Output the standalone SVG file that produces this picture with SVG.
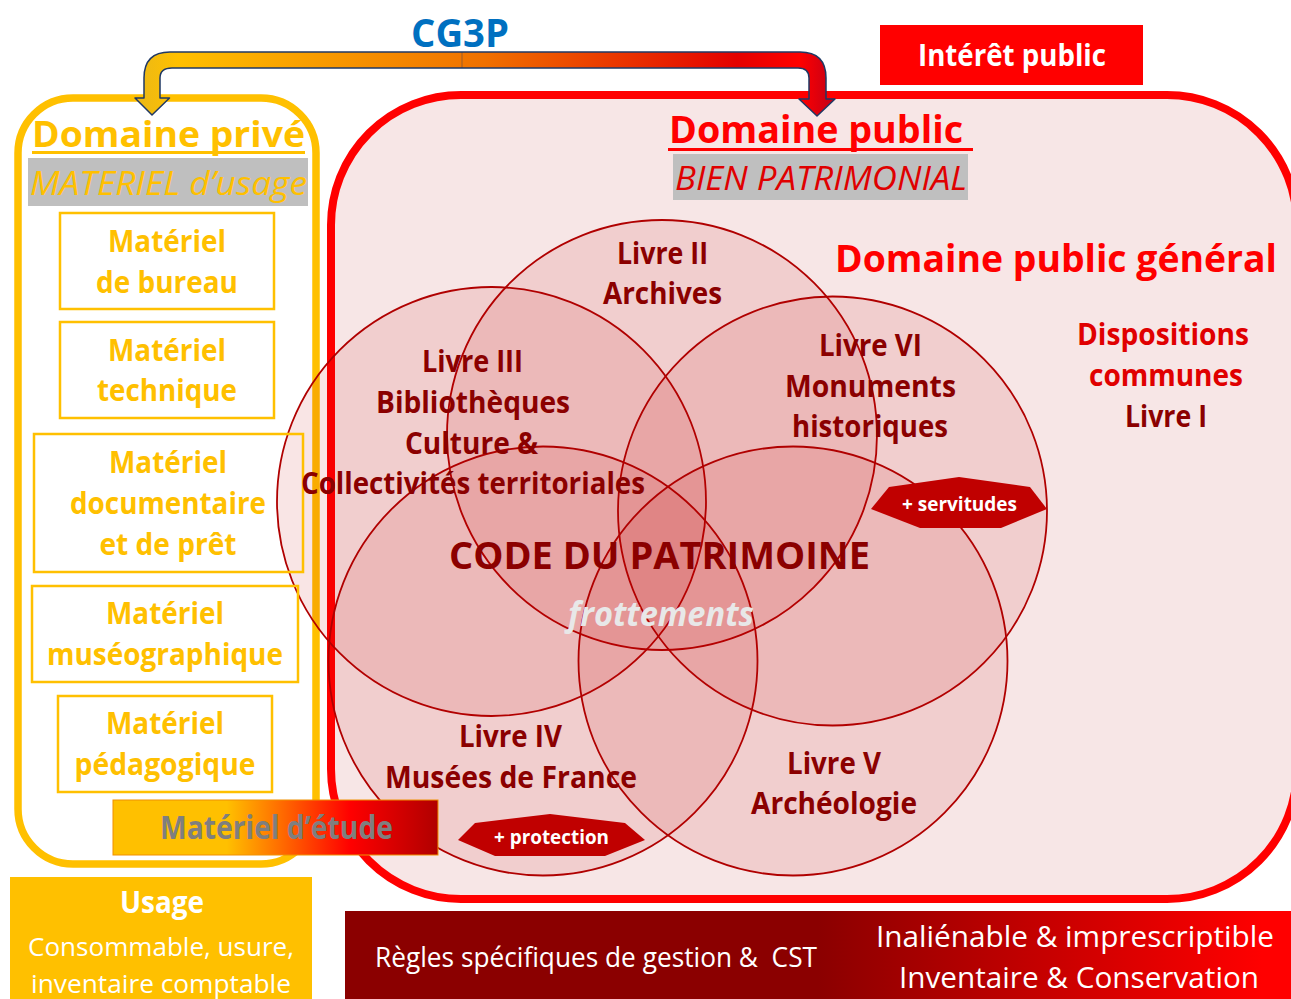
<svg xmlns="http://www.w3.org/2000/svg" width="1291" height="999" viewBox="0 0 1291 999">
<style>
text{font-family:"Open Sans","Noto Sans","Liberation Sans",sans-serif;text-anchor:middle}
.b{font-weight:700}
.dr{fill:#8b0000;font-size:30px;font-weight:700}
.yl{fill:#ffc000;font-size:30px;font-weight:700}
.box{fill:#fff;stroke:#ffc000;stroke-width:2.5}
.venn{fill:#c00000;fill-opacity:.1;stroke:#b00000;stroke-width:1.8}
.hex{fill:#c00000}
.w{fill:#fff}
</style>
<defs>
<linearGradient id="arrow" gradientUnits="userSpaceOnUse" x1="135" y1="0" x2="835" y2="0"><stop offset="0" stop-color="#eab818"/><stop offset=".06" stop-color="#ffc000"/><stop offset=".5" stop-color="#f07000"/><stop offset=".86" stop-color="#e40000"/><stop offset=".95" stop-color="#ff0000"/><stop offset="1" stop-color="#c00018"/></linearGradient>
<linearGradient id="etude" x1="0" y1="0" x2="1" y2="0"><stop offset=".35" stop-color="#ffc000"/><stop offset=".73" stop-color="#ff0000"/><stop offset="1" stop-color="#b00000"/></linearGradient>
<linearGradient id="rules" x1="0" y1="0" x2="1" y2="0"><stop offset=".5" stop-color="#8b0000"/><stop offset=".97" stop-color="#ff0000"/></linearGradient>
</defs>
<g id="domaine-public-cadre"><rect x="331" y="95" width="966" height="804" rx="130" fill="#f7e6e6" stroke="#ff0000" stroke-width="8"/></g>
<g id="domaine-prive-cadre"><rect x="18" y="98" width="298" height="766" rx="55" fill="#fff" stroke="#ffc000" stroke-width="7.500"/></g>
<g id="livre-ii"><circle class="venn" cx="662" cy="435" r="215"/></g>
<g id="livre-iii"><circle class="venn" cx="491.500" cy="501.500" r="214.500"/></g>
<g id="livre-vi"><circle class="venn" cx="832.500" cy="511" r="214.500"/></g>
<g id="livre-iv"><circle class="venn" cx="543" cy="661" r="214.500"/></g>
<g id="livre-v"><circle class="venn" cx="793" cy="661" r="214.500"/></g>
<g id="connectors"><path d="M144 98V78Q144 52 170 52H800Q826 52 826 78V99H835L817 116L799 99H809V78Q809 68 798 68H172Q160 68 160 78V98H169.500L152 115L135 98Z" fill="url(#arrow)" stroke="#1f3864" stroke-width="1.500" stroke-linejoin="round"/><path d="M462 52V68" stroke="#1f3864" stroke-width="1" opacity=".4"/></g>
<g id="cg3p"><text x="460" y="47" class="b" font-size="40" fill="#0070c0" textLength="98" lengthAdjust="spacingAndGlyphs">CG3P</text></g>
<g id="interet-public"><rect x="880" y="25" width="263" height="60" fill="#ff0000"/><text x="1012" y="66" class="b w" font-size="30" textLength="188" lengthAdjust="spacingAndGlyphs">Intérêt public</text></g>
<g id="titre-prive"><text x="168.500" y="147" font-size="36" font-weight="700" fill="#ffc000" textLength="273" lengthAdjust="spacingAndGlyphs">Domaine privé</text><rect x="32" y="151" width="273" height="3" fill="#ffc000"/><rect x="28" y="158" width="280" height="48" fill="#bfbfbf"/><text x="168.500" y="195" font-size="32" font-style="italic" fill="#ffc000" textLength="277" lengthAdjust="spacingAndGlyphs">MATERIEL d’usage</text></g>
<g id="titre-public"><text x="816" y="143" font-size="38" font-weight="700" fill="#ff0000" textLength="294" lengthAdjust="spacingAndGlyphs">Domaine public</text><rect x="668" y="148" width="305" height="3" fill="#ff0000"/><rect x="673" y="154" width="295" height="46" fill="#bfbfbf"/><text x="821" y="190" font-size="32" font-style="italic" fill="#e00000" textLength="292" lengthAdjust="spacingAndGlyphs">BIEN PATRIMONIAL</text></g>
<g id="materiel-bureau"><rect class="box" x="60" y="213" width="214" height="96"/><text class="yl" x="167" y="252" textLength="118" lengthAdjust="spacingAndGlyphs">Matériel</text><text class="yl" x="167" y="293" textLength="142" lengthAdjust="spacingAndGlyphs">de bureau</text></g>
<g id="materiel-technique"><rect class="box" x="60" y="322" width="214" height="96"/><text class="yl" x="167" y="361" textLength="118" lengthAdjust="spacingAndGlyphs">Matériel</text><text class="yl" x="167" y="401" textLength="140" lengthAdjust="spacingAndGlyphs">technique</text></g>
<g id="materiel-documentaire"><rect x="34" y="434" width="269" height="138" fill="none" stroke="#ffc000" stroke-width="2.500"/><text class="yl" x="168" y="473" textLength="118" lengthAdjust="spacingAndGlyphs">Matériel</text><text class="yl" x="168" y="514" textLength="196" lengthAdjust="spacingAndGlyphs">documentaire</text><text class="yl" x="168" y="555" textLength="137" lengthAdjust="spacingAndGlyphs">et de prêt</text></g>
<g id="materiel-museo"><rect x="32" y="586" width="266" height="96" fill="none" stroke="#ffc000" stroke-width="2.500"/><text class="yl" x="165" y="624" textLength="118" lengthAdjust="spacingAndGlyphs">Matériel</text><text class="yl" x="165" y="665" textLength="236" lengthAdjust="spacingAndGlyphs">muséographique</text></g>
<g id="materiel-pedago"><rect class="box" x="58" y="696" width="214" height="96"/><text class="yl" x="165" y="734" textLength="118" lengthAdjust="spacingAndGlyphs">Matériel</text><text class="yl" x="165" y="775" textLength="181" lengthAdjust="spacingAndGlyphs">pédagogique</text></g>
<g id="materiel-etude"><rect x="113" y="800" width="325" height="55" fill="url(#etude)" stroke="#f09000" stroke-width="1"/><text x="276.500" y="839" font-size="32" font-weight="700" fill="#7f7f7f" textLength="233" lengthAdjust="spacingAndGlyphs">Matériel d’étude</text></g>
<g id="textes-venn">
<text class="dr" x="662.500" y="264" textLength="91" lengthAdjust="spacingAndGlyphs">Livre II</text><text class="dr" x="662.500" y="304" textLength="119" lengthAdjust="spacingAndGlyphs">Archives</text>
<text class="dr" x="472.500" y="372" textLength="101" lengthAdjust="spacingAndGlyphs">Livre III</text><text class="dr" x="473" y="413" textLength="194" lengthAdjust="spacingAndGlyphs">Bibliothèques</text><text class="dr" x="471.500" y="454" textLength="133" lengthAdjust="spacingAndGlyphs">Culture &amp;</text><text class="dr" x="473" y="494" textLength="344" lengthAdjust="spacingAndGlyphs">Collectivités territoriales</text>
<text class="dr" x="870.500" y="356" textLength="103" lengthAdjust="spacingAndGlyphs">Livre VI</text><text class="dr" x="870.500" y="397" textLength="171" lengthAdjust="spacingAndGlyphs">Monuments</text><text class="dr" x="870" y="437" textLength="156" lengthAdjust="spacingAndGlyphs">historiques</text>
<text class="dr" x="510.500" y="747" textLength="103" lengthAdjust="spacingAndGlyphs">Livre IV</text><text class="dr" x="511" y="788" textLength="252" lengthAdjust="spacingAndGlyphs">Musées de France</text>
<text class="dr" x="834" y="774" textLength="94" lengthAdjust="spacingAndGlyphs">Livre V</text><text class="dr" x="834" y="814" textLength="166" lengthAdjust="spacingAndGlyphs">Archéologie</text>
<text x="659.500" y="569" font-size="38" font-weight="700" fill="#8b0000" textLength="421" lengthAdjust="spacingAndGlyphs">CODE DU PATRIMOINE</text>
<text x="661" y="626" font-size="34" font-weight="700" font-style="italic" fill="#e8e8e8" textLength="186" lengthAdjust="spacingAndGlyphs">frottements</text>
</g>
<g id="domaine-public-general"><text x="1056" y="272" font-size="37" font-weight="700" fill="#ff0000" textLength="442" lengthAdjust="spacingAndGlyphs">Domaine public général</text></g>
<g id="dispositions"><text x="1163" y="345" font-size="30" font-weight="700" fill="#e00000" textLength="172" lengthAdjust="spacingAndGlyphs">Dispositions</text><text x="1166" y="386" font-size="30" font-weight="700" fill="#e00000" textLength="154" lengthAdjust="spacingAndGlyphs">communes</text><text class="dr" x="1166" y="427" textLength="82" lengthAdjust="spacingAndGlyphs">Livre I</text></g>
<g id="servitudes"><polygon class="hex" points="871,509 889,487 959,477 1030,487 1047,509 1001,528 920,528"/><text class="b w" x="959.500" y="511" font-size="20" textLength="115" lengthAdjust="spacingAndGlyphs">+ servitudes</text></g>
<g id="protection"><polygon class="hex" points="458,840 475,823 550,814 625,823 645,840 605,856 495,856"/><text class="b w" x="551.500" y="844" font-size="20" textLength="115" lengthAdjust="spacingAndGlyphs">+ protection</text></g>
<g id="usage"><rect x="10" y="877" width="302" height="122" fill="#ffc000"/><text class="b w" x="162" y="913" font-size="30" textLength="84" lengthAdjust="spacingAndGlyphs">Usage</text><text class="w" x="161" y="956" font-size="26" textLength="266" lengthAdjust="spacingAndGlyphs">Consommable, usure,</text><text class="w" x="161" y="993" font-size="26" textLength="260" lengthAdjust="spacingAndGlyphs">inventaire comptable</text></g>
<g id="regles"><rect x="345" y="911" width="946" height="88" fill="url(#rules)"/><text class="w" x="596" y="967" font-size="27" xml:space="preserve" textLength="442" lengthAdjust="spacingAndGlyphs">Règles spécifiques de gestion &amp;  CST</text><text class="w" x="1075" y="947" font-size="30" textLength="398" lengthAdjust="spacingAndGlyphs">Inaliénable &amp; imprescriptible</text><text class="w" x="1079" y="988" font-size="30" textLength="360" lengthAdjust="spacingAndGlyphs">Inventaire &amp; Conservation</text></g>
</svg>
